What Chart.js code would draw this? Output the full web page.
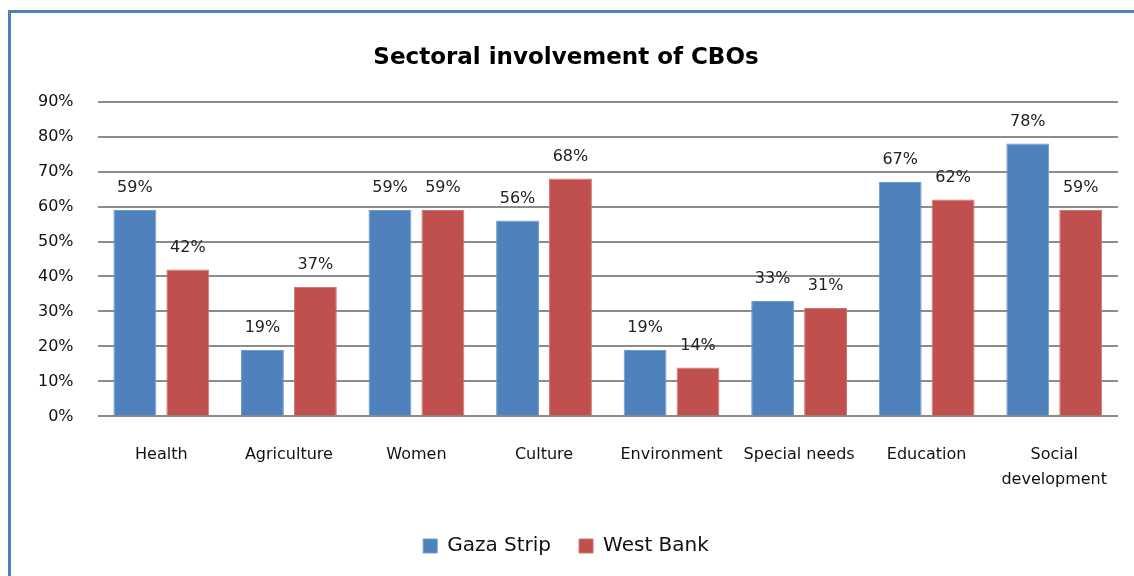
<!DOCTYPE html>
<html>
<head>
<meta charset="utf-8">
<script src="https://cdn.jsdelivr.net/npm/chart.js@4/dist/chart.umd.min.js"></script>
<style>
  html, body { margin: 0; padding: 0; background: #fff; overflow: hidden; }
  #frame {
    position: absolute; left: 8px; top: 10px; width: 1200px; height: 700px;
    border-left: 3px solid #4f81bd; border-top: 3px solid #4f81bd;
  }
  #wrap { position: absolute; left: 0; top: 0; width: 1134px; height: 576px; }
</style>
</head>
<body>
<div id="frame"></div>
<div id="wrap"><canvas id="cboChart"></canvas></div>
<script>
var sectors = ['Health', 'Agriculture', 'Women', 'Culture', 'Environment', 'Special needs', 'Education', ['Social', 'development']];
var gazaStrip = [59, 19, 59, 56, 19, 33, 67, 78];
var westBank = [42, 37, 59, 68, 14, 31, 62, 59];
var yTicks = [0, 10, 20, 30, 40, 50, 60, 70, 80, 90];

var fontFamily = "'DejaVu Sans', sans-serif";

var valueLabels = {
    id: 'valueLabels',
    afterDatasetsDraw: function(chart) {
        var ctx = chart.ctx;
        ctx.save();
        ctx.font = '16px ' + fontFamily;
        ctx.fillStyle = '#222';
        ctx.textAlign = 'center';
        ctx.textBaseline = 'middle';
        chart.data.datasets.forEach(function(ds, i) {
            chart.getDatasetMeta(i).data.forEach(function(bar, j) {
                ctx.fillText(ds.data[j] + '%', bar.x, bar.y - 22);
            });
        });
        ctx.restore();
    }
};

var ctx = document.getElementById('cboChart').getContext('2d');
var cboChart = new Chart(ctx, {
    type: 'bar',
    data: {
        labels: sectors,
        datasets: [{
            label: 'Gaza Strip',
            data: gazaStrip,
            backgroundColor: '#4f81bd',
            borderColor: '#6f9bd0',
            borderWidth: 1,
            barPercentage: 0.81,
            categoryPercentage: 0.83
        }, {
            label: 'West Bank',
            data: westBank,
            backgroundColor: '#c0504d',
            borderColor: '#d47370',
            borderWidth: 1,
            barPercentage: 0.81,
            categoryPercentage: 0.83
        }]
    },
    options: {
        responsive: true,
        maintainAspectRatio: false,
        animation: false,
        layout: {
            padding: { left: 14, right: 16, top: 44, bottom: 10 }
        },
        plugins: {
            title: {
                display: true,
                text: 'Sectoral involvement of CBOs',
                color: '#000',
                font: { family: fontFamily, size: 23, weight: 'bold' },
                padding: { top: 0, bottom: 30 }
            },
            legend: {
                position: 'bottom',
                labels: {
                    color: '#111',
                    boxWidth: 14,
                    boxHeight: 14,
                    padding: 28,
                    font: { family: fontFamily, size: 20 }
                }
            },
            tooltip: { enabled: false }
        },
        scales: {
            x: {
                grid: { display: false },
                border: { display: false },
                afterFit: function(axis) { axis.height -= 2; },
                ticks: {
                    color: '#111',
                    padding: 18,
                    maxRotation: 0,
                    font: { family: fontFamily, size: 16, lineHeight: 1.55 }
                }
            },
            y: {
                min: 0,
                max: 90,
                afterBuildTicks: function(axis) {
                    axis.ticks = yTicks.map(function(v) { return { value: v }; });
                },
                grid: { color: '#8c8c8c', lineWidth: 2, drawTicks: false },
                border: { display: false },
                ticks: {
                    color: '#111',
                    padding: 24,
                    font: { family: fontFamily, size: 16 },
                    callback: function(v) { return v + '%'; }
                }
            }
        }
    },
    plugins: [valueLabels]
});
</script>
</body>
</html>
